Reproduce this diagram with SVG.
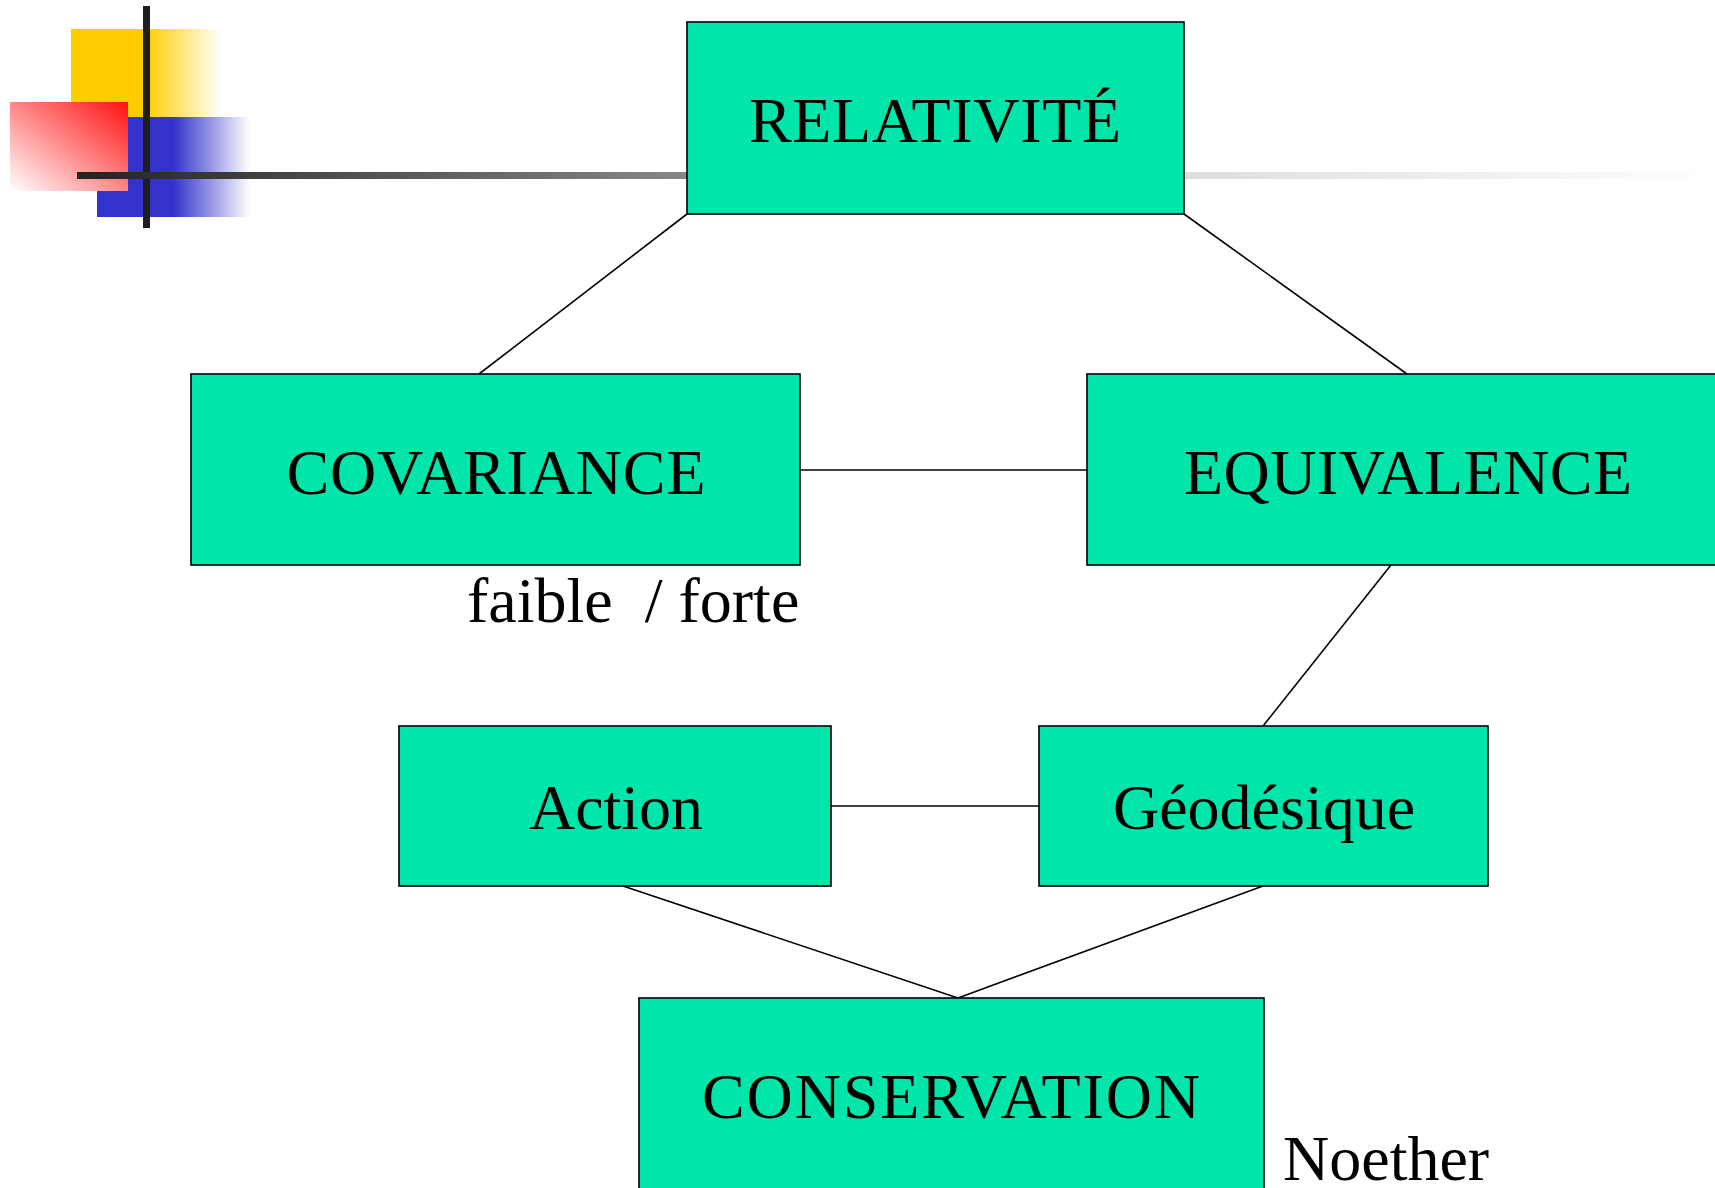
<svg xmlns="http://www.w3.org/2000/svg" width="1715" height="1188" viewBox="0 0 1715 1188">
<style>
.box{fill:#00E5A9;stroke:#000;stroke-width:1.6}
.lbl{font-family:"Liberation Serif","Times New Roman",serif;font-size:64px;fill:#000}
.c{text-anchor:middle}
.conn line{stroke:#000;stroke-width:1.6}
</style>
<defs>
<linearGradient id="gy" x1="0" y1="0" x2="1" y2="0"><stop offset="0.5" stop-color="#FFCC00"/><stop offset="1" stop-color="#FFCC00" stop-opacity="0"/></linearGradient>
<linearGradient id="gb" x1="0" y1="0" x2="1" y2="0"><stop offset="0.5" stop-color="#3333CC"/><stop offset="1" stop-color="#3333CC" stop-opacity="0"/></linearGradient>
<linearGradient id="gr" x1="1" y1="0" x2="0" y2="1"><stop offset="0" stop-color="#FF1111"/><stop offset="1" stop-color="#FFFFFF"/></linearGradient>
<linearGradient id="gl" x1="0" y1="0" x2="1" y2="0"><stop offset="0" stop-color="#222"/><stop offset="1" stop-color="#888"/></linearGradient>
<linearGradient id="gl2" x1="0" y1="0" x2="1" y2="0"><stop offset="0" stop-color="#ddd"/><stop offset="1" stop-color="#ddd" stop-opacity="0"/></linearGradient>
</defs>
<g id="logo">
<rect x="71" y="29" width="150" height="88" fill="url(#gy)"/>
<rect x="97" y="117" width="153" height="100" fill="url(#gb)"/>
<rect x="10" y="102" width="118" height="89" fill="url(#gr)"/>
<rect x="143" y="6" width="7" height="222" fill="#1e1e1e"/>
<rect x="77" y="172" width="610" height="7" fill="url(#gl)"/>
<rect x="1184" y="172" width="531" height="7" fill="url(#gl2)"/>
</g>
<g id="connectors" class="conn">
<line x1="687" y1="214" x2="479" y2="374"/>
<line x1="1184" y1="214" x2="1407" y2="374"/>
<line x1="800" y1="470" x2="1087" y2="470"/>
<line x1="1391" y1="565" x2="1263" y2="726"/>
<line x1="831" y1="806" x2="1039" y2="806"/>
<line x1="623" y1="886" x2="958" y2="998"/>
<line x1="1263" y1="886" x2="958" y2="998"/>
</g>
<g id="relativite"><rect class="box" x="687" y="22" width="497" height="192"/><text class="lbl c" x="935" y="142" textLength="372" lengthAdjust="spacing">RELATIVITÉ</text></g>
<g id="covariance"><rect class="box" x="191" y="374" width="609" height="191"/><text class="lbl c" x="496" y="494" textLength="419" lengthAdjust="spacing">COVARIANCE</text></g>
<g id="equivalence"><rect class="box" x="1087" y="374" width="640" height="191"/><text class="lbl c" x="1408" y="494" textLength="448" lengthAdjust="spacing">EQUIVALENCE</text></g>
<g id="action"><rect class="box" x="399" y="726" width="432" height="160"/><text class="lbl c" x="616" y="829">Action</text></g>
<g id="geodesique"><rect class="box" x="1039" y="726" width="449" height="160"/><text class="lbl c" x="1264" y="829">Géodésique</text></g>
<g id="conservation"><rect class="box" x="639" y="998" width="625" height="200"/><text class="lbl c" x="951" y="1118" textLength="498" lengthAdjust="spacing">CONSERVATION</text></g>
<text class="lbl" x="467" y="622" xml:space="preserve" style="white-space:pre">faible  / forte</text>
<text class="lbl" x="1283" y="1180">Noether</text>
</svg>
